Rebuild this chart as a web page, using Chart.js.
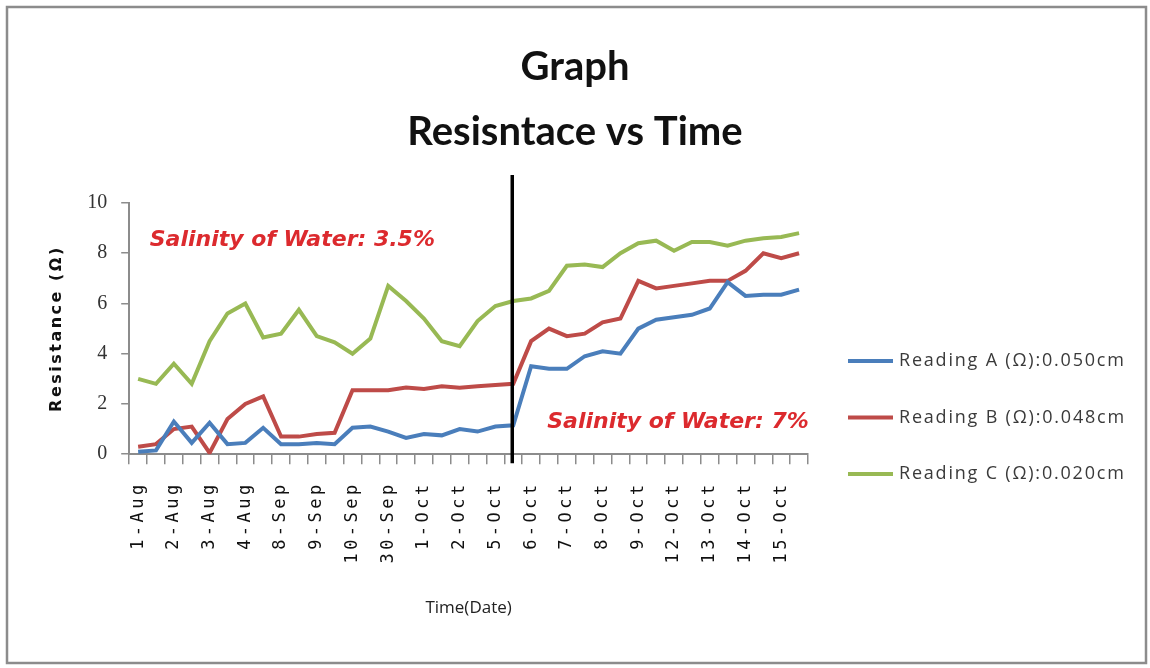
<!DOCTYPE html>
<html lang="en">
<head>
    <meta charset="UTF-8">
    <title>Resistance vs Time</title>
    <script src="https://cdn.jsdelivr.net/npm/chart.js"></script>
    <style>
        html, body { margin: 0; padding: 0; background: #fff; }
        #wrap { width: 1150px; height: 668px; }
    </style>
</head>
<body>
    <div id="wrap"><canvas id="resChart" width="1150" height="668"></canvas></div>

    <script>
        // dates shown on the axis, two readings taken per date
        const dates = ['1-Aug', '2-Aug', '3-Aug', '4-Aug', '8-Sep', '9-Sep', '10-Sep', '30-Sep', '1-Oct', '2-Oct',
                       '5-Oct', '6-Oct', '7-Oct', '8-Oct', '9-Oct', '12-Oct', '13-Oct', '14-Oct', '15-Oct'];
        const categories = dates.flatMap(d => [d, d]);

        const readingA = [0.1, 0.15, 1.3, 0.45, 1.25, 0.4, 0.45, 1.05, 0.4, 0.4, 0.45, 0.4, 1.05, 1.1, 0.9, 0.65, 0.8, 0.75, 1.0,
                          0.9, 1.1, 1.15, 3.5, 3.4, 3.4, 3.9, 4.1, 4.0, 5.0, 5.35, 5.45, 5.55, 5.8, 6.85, 6.3, 6.35, 6.35, 6.55];
        const readingB = [0.3, 0.4, 1.0, 1.1, 0.05, 1.4, 2.0, 2.3, 0.7, 0.7, 0.8, 0.85, 2.55, 2.55, 2.55, 2.65, 2.6, 2.7, 2.65,
                          2.7, 2.75, 2.8, 4.5, 5.0, 4.7, 4.8, 5.25, 5.4, 6.9, 6.6, 6.7, 6.8, 6.9, 6.9, 7.3, 8.0, 7.8, 8.0];
        const readingC = [3.0, 2.8, 3.6, 2.8, 4.5, 5.6, 6.0, 4.65, 4.8, 5.75, 4.7, 4.45, 4.0, 4.6, 6.7, 6.1, 5.4, 4.5, 4.3,
                          5.3, 5.9, 6.1, 6.2, 6.5, 7.5, 7.55, 7.45, 8.0, 8.4, 8.5, 8.1, 8.45, 8.45, 8.3, 8.5, 8.6, 8.65, 8.8];

        const seriesNames = ['Reading A (\u03A9):0.050cm', 'Reading B (\u03A9):0.048cm', 'Reading C (\u03A9):0.020cm'];
        const seriesColors = ['#4a7ebb', '#be4b48', '#98b954'];

        // salinity changes at this reading
        const changeIndex = 21;
        const notes = [
            { text: 'Salinity of Water: 3.5%', at: 0.65, value: 8.5 },
            { text: 'Salinity of Water: 7%', at: 22.9, value: 1.28 }
        ];

        const frame = {
            id: 'frame',
            beforeDraw(chart) {
                const c = chart.ctx;
                c.save();
                c.fillStyle = '#fff';
                c.fillRect(0, 0, chart.width, chart.height);
                c.strokeStyle = '#8c8c8c';
                c.lineWidth = 2.5;
                c.strokeRect(7, 7, 1139, 656);
                c.restore();
            }
        };

        // draw a scale part with wider letter spacing
        function spaced(scale, fn, px) {
            const orig = scale[fn];
            scale[fn] = function (area) {
                const c = this.ctx;
                c.save();
                c.letterSpacing = px;
                orig.call(this, area);
                c.restore();
            };
        }

        const extras = {
            id: 'extras',
            afterLayout(chart) {
                if (!chart._spaced) {
                    spaced(chart.scales.x, 'drawLabels', '3.5px');
                    spaced(chart.scales.y, 'drawTitle', '2.5px');
                    chart._spaced = true;
                }
            },
            afterDatasetsDraw(chart) {
                const c = chart.ctx;
                const xs = chart.scales.x, ys = chart.scales.y;
                const area = chart.chartArea;

                // divider line
                const lx = xs.getPixelForValue(changeIndex) - 1;
                c.save();
                c.strokeStyle = '#000';
                c.lineWidth = 3.5;
                c.beginPath();
                c.moveTo(lx, area.top - 28);
                c.lineTo(lx, area.bottom + 9);
                c.stroke();

                // notes
                c.font = 'italic bold 22px "DejaVu Sans"';
                c.fillStyle = '#dc2a2e';
                c.textBaseline = 'middle';
                c.textAlign = 'left';
                notes.forEach(n => {
                    c.fillText(n.text, xs.getPixelForValue(n.at), ys.getPixelForValue(n.value));
                });

                // legend
                c.font = '18px "Open Sans"';
                c.letterSpacing = '1.8px';
                c.fillStyle = '#3a3a3a';
                chart.data.datasets.forEach((ds, i) => {
                    const y = area.top + 158 + i * 56.5;
                    c.strokeStyle = ds.borderColor;
                    c.lineWidth = 4;
                    c.beginPath();
                    c.moveTo(area.right + 40, y);
                    c.lineTo(area.right + 85, y);
                    c.stroke();
                    c.fillText(ds.label, area.right + 91, y);
                });
                c.restore();
            }
        };

        new Chart(document.getElementById('resChart'), {
            type: 'line',
            data: {
                labels: categories,
                datasets: [readingA, readingB, readingC].map((vals, i) => ({
                    label: seriesNames[i],
                    data: vals,
                    borderColor: seriesColors[i],
                    backgroundColor: seriesColors[i],
                    borderWidth: 4,
                    pointRadius: 0,
                    tension: 0
                }))
            },
            options: {
                responsive: false,
                animation: false,
                layout: { padding: 0 },
                plugins: {
                    legend: { display: false },
                    tooltip: { enabled: false },
                    title: {
                        display: true,
                        text: ['Graph', 'Resisntace vs Time'],
                        color: '#111',
                        font: { family: 'Lato', size: 40, weight: 'bold', lineHeight: 1.625 },
                        padding: { top: 35, bottom: 38 }
                    }
                },
                scales: {
                    x: {
                        offset: true,
                        grid: { offset: true, drawOnChartArea: false, tickLength: 10, color: '#8c8c8c', lineWidth: 1.5 },
                        border: { color: '#8c8c8c', width: 2 },
                        ticks: {
                            autoSkip: false,
                            maxRotation: 90,
                            minRotation: 90,
                            padding: 17,
                            color: '#111',
                            font: { family: 'DejaVu Sans Mono', size: 17 },
                            callback: function (v, i) { return i % 2 === 0 ? this.getLabelForValue(v) : ''; }
                        },
                        title: {
                            display: true,
                            text: 'Time(Date)',
                            color: '#222',
                            font: { family: 'Open Sans', size: 17 },
                            padding: { top: 38, bottom: 50 }
                        }
                    },
                    y: {
                        min: 0,
                        max: 10,
                        ticks: {
                            stepSize: 2,
                            padding: 14,
                            color: '#333',
                            font: { family: 'Liberation Serif', size: 20 }
                        },
                        grid: { drawOnChartArea: false, tickLength: 8, color: '#8c8c8c', lineWidth: 1.5 },
                        border: { color: '#8c8c8c', width: 2 },
                        title: {
                            display: true,
                            text: 'Resistance (\u03A9)',
                            color: '#111',
                            font: { family: 'DejaVu Sans', size: 16, weight: 'bold' },
                            padding: { top: 47, bottom: 7 }
                        }
                    },
                    // empty right-hand space where the legend sits
                    side: {
                        type: 'linear',
                        position: 'right',
                        grid: { display: false },
                        border: { display: false },
                        ticks: { display: false },
                        afterFit(s) { s.width = 342; }
                    }
                }
            },
            plugins: [frame, extras]
        });
    </script>
</body>
</html>
